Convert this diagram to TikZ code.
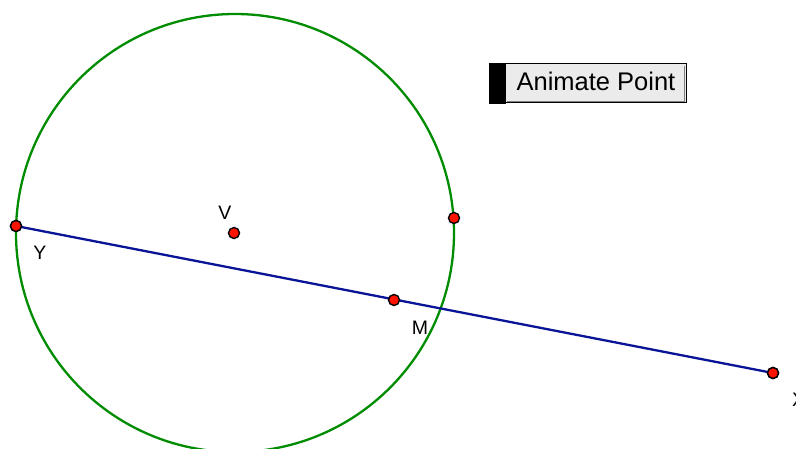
\documentclass[tikz,border=0pt]{standalone}
\usepackage{fontspec}
\setmainfont{Liberation Sans}
\begin{document}
\begin{tikzpicture}[x=1pt,y=-1pt,
  pt/.style={circle,draw=black,fill=red!85!orange,line width=1.4pt,inner sep=0pt,minimum size=11pt},
  lbl/.style={font=\fontsize{19.5}{21}\selectfont,inner sep=0pt},
  seg/.style={draw={rgb,255:red,10;green,20;blue,150},line width=2.3pt},
  circ/.style={draw={rgb,255:red,0;green,140;blue,0},line width=2.3pt}]
\useasboundingbox (0,0) rectangle (796,449);
\begin{scope}
\clip (0,0) rectangle (796,449);
\coordinate (C) at (235,233);
\draw[circ] (C) circle[radius=219];
\node[pt] (Y) at (16,226) {};
\node[pt] (X) at (773,373) {};
\draw[seg] (Y.center) -- (X.center);
\node[pt] (Y2) at (16,226) {};
\node[pt] (X2) at (773,373) {};
\node[pt] (M) at (394,300) {};
\node[pt] (V) at (234,233) {};
\node[pt] (P) at (454,218) {};
\node[lbl] (LY) at (40,253) {Y};
\node[lbl] (LV) at (225,213) {V};
\node[lbl] (LM) at (420,328) {M};
\node[lbl,anchor=west] (LX) at (792,400) {X};
\end{scope}
% button
\fill[black] (489,63) rectangle (506,104);
\draw[fill={rgb,255:red,235;green,235;blue,235},draw=black,line width=1pt] (505,64) rectangle (686,103);
\draw[gray,line width=1.5pt] (507,101.5) -- (684.5,101.5) -- (684.5,66);
\node[font=\fontsize{25.5}{27}\selectfont,inner sep=0pt] (B) at (596,81) {Animate Point};
\end{tikzpicture}
\end{document}
